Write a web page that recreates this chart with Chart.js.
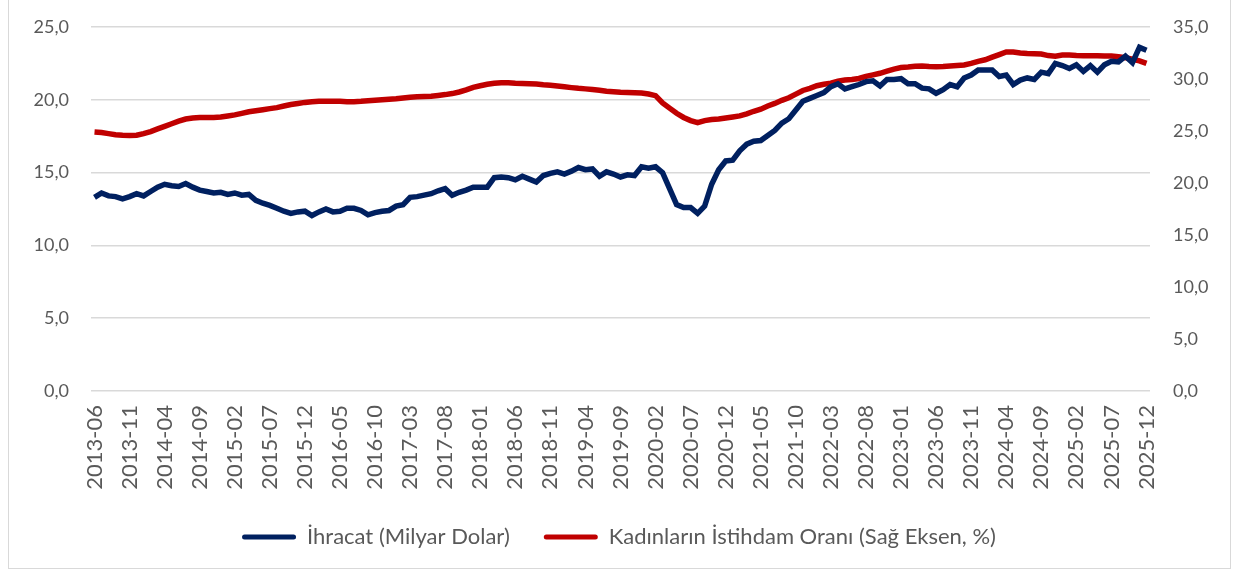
<!DOCTYPE html>
<html>
<head>
<meta charset="utf-8">
<script src="https://cdn.jsdelivr.net/npm/chart.js@4.4.1/dist/chart.umd.min.js"></script>
<style>
  html, body { margin: 0; padding: 0; background: #fff; }
  #wrap { position: relative; width: 1238px; height: 576px; overflow: hidden; }
  #frame { position: absolute; left: 8px; top: -4px; width: 1221px; height: 571px; border: 1px solid #d9d9d9; }
  #box { position: absolute; left: 0; top: 0; width: 1238px; height: 576px; }
</style>
</head>
<body>
<div id="wrap">
  <div id="frame"></div>
  <div id="box"><canvas id="grafik"></canvas></div>
</div>
<script>
// aylık seri: 2013-06 .. 2025-12
const baslangicYil = 2013;
const baslangicAy = 6;
const aySayisi = 151;

const ihracat = [
  13.3, 13.6, 13.4, 13.35, 13.2, 13.35, 13.55, 13.4, 13.7, 14.0,
  14.2, 14.1, 14.05, 14.25, 14.0, 13.8, 13.7, 13.6, 13.65, 13.5,
  13.6, 13.45, 13.5, 13.1, 12.9, 12.75, 12.55, 12.35, 12.2, 12.3,
  12.35, 12.05, 12.3, 12.5, 12.3, 12.35, 12.55, 12.55, 12.4, 12.1,
  12.25, 12.35, 12.4, 12.7, 12.8, 13.3, 13.35, 13.45, 13.55, 13.75,
  13.9, 13.45, 13.65, 13.8, 14.0, 14.0, 14.0, 14.65, 14.7, 14.65,
  14.5, 14.75, 14.55, 14.35, 14.8, 14.95, 15.05, 14.9, 15.1, 15.35,
  15.2, 15.25, 14.75, 15.05, 14.9, 14.7, 14.85, 14.8, 15.4, 15.3,
  15.4, 15.0, 13.9, 12.8, 12.6, 12.6, 12.2, 12.7, 14.2, 15.2,
  15.8, 15.85, 16.5, 16.95, 17.15, 17.2, 17.55, 17.9, 18.4, 18.7,
  19.3, 19.9, 20.1, 20.3, 20.5, 20.9, 21.1, 20.75, 20.9, 21.05,
  21.25, 21.3, 20.95, 21.4, 21.4, 21.45, 21.1, 21.1, 20.8, 20.75,
  20.45, 20.7, 21.05, 20.9, 21.5, 21.7, 22.05, 22.05, 22.05, 21.6,
  21.7, 21.05, 21.35, 21.5, 21.4, 21.9, 21.8, 22.5, 22.35, 22.15,
  22.4, 21.95, 22.35, 21.9, 22.4, 22.65, 22.6, 23.0, 22.55, 23.6,
  23.4
];

const kadinIstihdam = [
  24.9, 24.85, 24.75, 24.65, 24.6, 24.57, 24.6, 24.75, 24.95, 25.2,
  25.45, 25.7, 25.95, 26.15, 26.25, 26.3, 26.3, 26.3, 26.35, 26.45,
  26.55, 26.7, 26.85, 26.95, 27.05, 27.15, 27.25, 27.4, 27.55, 27.65,
  27.75, 27.82, 27.85, 27.87, 27.87, 27.85, 27.82, 27.82, 27.85, 27.9,
  27.95, 28.0, 28.05, 28.1, 28.18, 28.25, 28.3, 28.32, 28.35, 28.42,
  28.5, 28.6, 28.75, 28.95, 29.2, 29.35, 29.5, 29.6, 29.65, 29.65,
  29.6, 29.57, 29.55, 29.52, 29.45, 29.4, 29.33, 29.25, 29.17, 29.1,
  29.05, 28.98, 28.92, 28.83, 28.78, 28.72, 28.7, 28.68, 28.65, 28.55,
  28.4, 27.7, 27.2, 26.7, 26.3, 26.0, 25.8, 26.0, 26.1, 26.15,
  26.25, 26.35, 26.45, 26.65, 26.9, 27.1, 27.4, 27.65, 27.95, 28.2,
  28.55, 28.9, 29.1, 29.35, 29.5, 29.6, 29.8, 29.9, 29.95, 30.05,
  30.25, 30.4, 30.55, 30.75, 30.95, 31.1, 31.15, 31.22, 31.24, 31.2,
  31.18, 31.2, 31.25, 31.3, 31.35, 31.5, 31.7, 31.85, 32.1, 32.35,
  32.6, 32.6, 32.5, 32.45, 32.42, 32.4, 32.25, 32.2, 32.3, 32.3,
  32.25, 32.24, 32.24, 32.24, 32.2, 32.2, 32.15, 32.05, 31.9, 31.75,
  31.5
];

const solTikler = [0, 5, 10, 15, 20, 25];
const sagTikler = [0, 5, 10, 15, 20, 25, 30, 35];

const aylar = [];
for (let i = 0; i < aySayisi; i++) {
  const m = baslangicAy - 1 + i;
  const yil = baslangicYil + Math.floor(m / 12);
  const ay = (m % 12) + 1;
  aylar.push(yil + '-' + String(ay).padStart(2, '0'));
}

const yaziRengi = '#595959';
const fontAile = 'Lato, "Open Sans", sans-serif';
const virgul = v => v.toFixed(1).replace('.', ',');

const canvas = document.getElementById('grafik');

const grafik = new Chart(canvas, {
  type: 'line',
  data: {
    labels: aylar,
    datasets: [
      {
        label: 'İhracat (Milyar Dolar)',
        data: ihracat,
        borderColor: '#002060',
        backgroundColor: '#002060',
        borderWidth: 5.5,
        pointRadius: 0,
        tension: 0,
        yAxisID: 'y'
      },
      {
        label: 'Kadınların İstihdam Oranı (Sağ Eksen, %)',
        data: kadinIstihdam,
        borderColor: '#C00000',
        backgroundColor: '#C00000',
        borderWidth: 5.5,
        pointRadius: 0,
        tension: 0,
        yAxisID: 'y1'
      }
    ]
  },
  options: {
    responsive: true,
    maintainAspectRatio: false,
    animation: false,
    layout: { padding: { top: 27, bottom: 18, left: 0, right: 0 } },
    plugins: {
      tooltip: { enabled: false },
      legend: {
        position: 'bottom',
        labels: {
          color: yaziRengi,
          font: { family: fontAile, size: 22 },
          boxWidth: 54,
          boxHeight: 5,
          padding: 34,
          generateLabels: function (chart) {
            return chart.data.datasets.map((ds, i) => ({
              text: ds.label,
              fillStyle: ds.borderColor,
              strokeStyle: ds.borderColor,
              lineWidth: 0,
              borderRadius: 2.5,
              fontColor: yaziRengi,
              hidden: false,
              datasetIndex: i
            }));
          }
        }
      }
    },
    scales: {
      x: {
        offset: true,
        grid: { display: false, drawTicks: false },
        border: { display: false },
        ticks: {
          autoSkip: false,
          maxRotation: 90,
          minRotation: 90,
          padding: 14,
          color: yaziRengi,
          font: { family: fontAile, size: 22 },
          callback: function (val, idx) {
            return idx % 5 === 0 ? aylar[idx] : null;
          }
        },
        afterFit: function (s) { s.height = 101; }
      },
      y: {
        position: 'left',
        min: solTikler[0],
        max: solTikler[solTikler.length - 1],
        afterBuildTicks: function (s) { s.ticks = solTikler.map(v => ({ value: v })); },
        grid: { color: '#d9d9d9', lineWidth: 1.5, drawTicks: true, tickLength: 22, tickColor: 'rgba(0,0,0,0)' },
        border: { display: false },
        ticks: {
          padding: 0,
          color: yaziRengi,
          font: { family: fontAile, size: 18 },
          callback: v => virgul(v)
        },
        afterFit: function (s) { s.width = 91; }
      },
      y1: {
        position: 'right',
        min: sagTikler[0],
        max: sagTikler[sagTikler.length - 1],
        afterBuildTicks: function (s) { s.ticks = sagTikler.map(v => ({ value: v })); },
        grid: { display: true, drawOnChartArea: false, drawTicks: true, tickLength: 23, tickColor: 'rgba(0,0,0,0)' },
        border: { display: false },
        ticks: {
          padding: 0,
          color: yaziRengi,
          font: { family: fontAile, size: 18 },
          callback: v => virgul(v)
        },
        afterFit: function (s) { s.width = 88; }
      }
    }
  }
});
</script>
</body>
</html>
